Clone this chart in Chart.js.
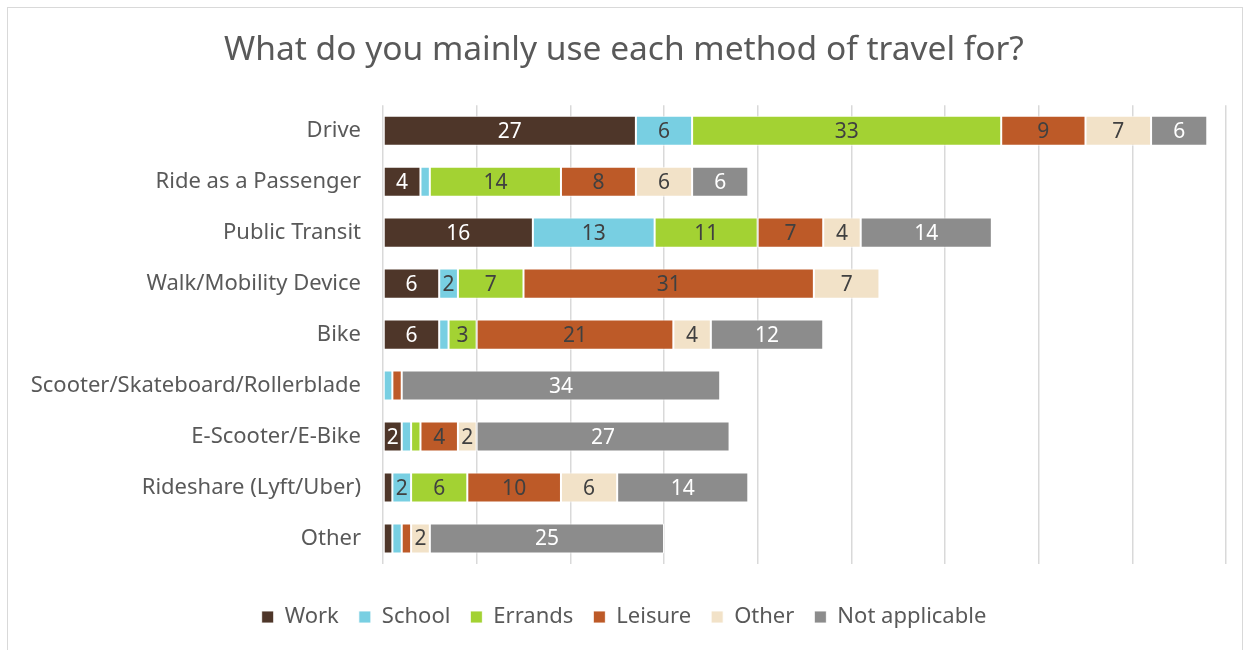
<!DOCTYPE html>
<html>
<head>
<meta charset="utf-8">
<script src="https://cdn.jsdelivr.net/npm/chart.js@4"></script>
<style>
  body { margin: 0; background: #fff; }
  #wrap { position: relative; width: 1250px; height: 650px; }
  #frame { position: absolute; left: 7px; top: 7px; width: 1236px; height: 645px; border: 1px solid #d9d9d9; box-sizing: border-box; pointer-events: none; }
</style>
</head>
<body>
<div id="wrap">
  <canvas id="travelChart" width="1250" height="650"></canvas>
  <div id="frame"></div>
</div>
<script>
const methods = ['Drive', 'Ride as a Passenger', 'Public Transit', 'Walk/Mobility Device', 'Bike',
    'Scooter/Skateboard/Rollerblade', 'E-Scooter/E-Bike', 'Rideshare (Lyft/Uber)', 'Other'];
const work = [27, 4, 16, 6, 6, 0, 2, 1, 1];
const school = [6, 1, 13, 2, 1, 1, 1, 2, 1];
const errands = [33, 14, 11, 7, 3, 0, 1, 6, 0];
const leisure = [9, 8, 7, 31, 21, 1, 4, 10, 1];
const otherUse = [7, 6, 4, 7, 4, 0, 2, 6, 2];
const notApplicable = [6, 6, 14, 0, 12, 34, 27, 14, 25];

const FONT = "'Noto Sans', sans-serif";
const TEXT_GREY = '#595959';

function series(label, data, color, labelColor) {
    return {
        label: label,
        data: data,
        backgroundColor: color,
        borderColor: 'rgba(255,255,255,0.85)',
        borderWidth: 1,
        borderSkipped: false,
        barPercentage: 0.59,
        categoryPercentage: 1,
        labelColor: labelColor
    };
}

// writes each segment's value in its middle (small segments stay blank)
const segmentLabels = {
    id: 'segmentLabels',
    afterDatasetsDraw(chart) {
        const ctx = chart.ctx;
        ctx.save();
        ctx.font = '21px ' + FONT;
        ctx.textAlign = 'center';
        ctx.textBaseline = 'middle';
        chart.data.datasets.forEach((ds, i) => {
            const meta = chart.getDatasetMeta(i);
            meta.data.forEach((bar, j) => {
                const v = ds.data[j];
                if (v < 2) return;
                ctx.fillStyle = ds.labelColor;
                ctx.fillText(String(v), (bar.x + bar.base) / 2, bar.y + 1);
            });
        });
        ctx.restore();
    }
};

document.addEventListener("DOMContentLoaded", function () {
    const ctx = document.getElementById('travelChart').getContext('2d');
    new Chart(ctx, {
        type: 'bar',
        data: {
            labels: methods,
            datasets: [
                series('Work', work, '#4e3629', '#ffffff'),
                series('School', school, '#78cfe2', '#404040'),
                series('Errands', errands, '#a3d233', '#404040'),
                series('Leisure', leisure, '#bd5a28', '#404040'),
                series('Other', otherUse, '#f2e2c8', '#404040'),
                series('Not applicable', notApplicable, '#8c8c8c', '#ffffff')
            ]
        },
        options: {
            indexAxis: 'y',
            responsive: false,
            animation: false,
            layout: { padding: { left: 22, right: 24, top: 10, bottom: 12 } },
            scales: {
                x: {
                    stacked: true,
                    min: 0,
                    max: 90,
                    ticks: { display: false, stepSize: 10 },
                    grid: { color: '#d9d9d9', lineWidth: 1.5, drawTicks: false },
                    border: { display: false },
                    afterFit(scale) { scale.height = 22; }
                },
                y: {
                    stacked: true,
                    ticks: { color: TEXT_GREY, font: { family: FONT, size: 22 }, padding: 14 },
                    grid: { display: false },
                    border: { display: false },
                    afterFit(scale) { scale.width = 361; }
                }
            },
            plugins: {
                title: {
                    display: true,
                    text: 'What do you mainly use each method of travel for?',
                    color: TEXT_GREY,
                    font: { family: FONT, size: 33.5, weight: 'normal' },
                    padding: { top: 20, bottom: 35 }
                },
                legend: {
                    position: 'bottom',
                    labels: {
                        color: TEXT_GREY,
                        font: { family: FONT, size: 22 },
                        boxWidth: 12,
                        boxHeight: 12,
                        padding: 20
                    }
                },
                tooltip: { enabled: false }
            }
        },
        plugins: [segmentLabels]
    });
});
</script>
</body>
</html>
